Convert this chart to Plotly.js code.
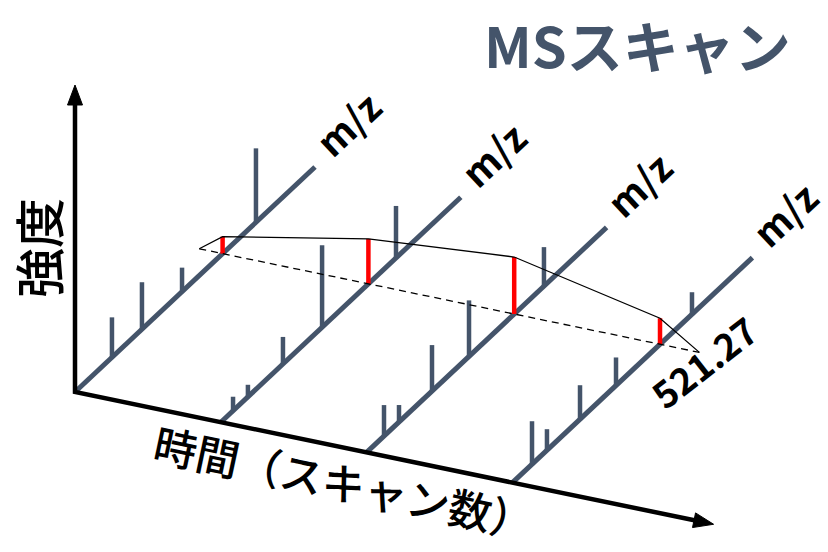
<!DOCTYPE html>
<html>
<head>
<meta charset="utf-8">
<script src="https://cdn.plot.ly/plotly-3.0.1.min.js"></script>
<style>html,body{margin:0;padding:0;background:#fff;}#chart{width:828px;height:552px;}</style>
</head>
<body>
<div id="chart"></div>
<script>
// ---- data ----
const scans = [0, 1, 2, 3];                       // MS scan index (time)
const peakMz0 = [0.154, 0.279, 0.446, 0.754];     // relative m/z position along each axis
const peakInt0 = [40, 47, 24, 74];
const peakMz1 = [0.051, 0.113, 0.259, 0.422, 0.730];
const peakInt1 = [14, 12, 27, 82, 52];
const peakMz2 = [0.0725, 0.135, 0.2725, 0.4267, 0.739];
const peakInt2 = [31, 17, 46, 56, 39];
const peakMz3 = [0.0817, 0.144, 0.2817, 0.4317, 0.7483];
const peakInt3 = [43, 21, 34, 28, 22];
const targetMz = 0.615;                            // m/z 521.27 position
const targetInt = [17, 45, 57, 26];                // intensity of 521.27 in each scan
const targetLabel = "521.27";
const mzLabel = "m/z";
const titleText = "MSスキャン";
const yLabel = "強度";
const xLabel = "時間（スキャン数）";

// ---- oblique projection (layout geometry) ----
const O = [75, 392], T = [145.8, 30.2], M = [240, -225];
function proj(t, s, h) { return [O[0] + t*T[0] + s*M[0], O[1] + t*T[1] + s*M[1] - h]; }

const peakMz = [peakMz0, peakMz1, peakMz2, peakMz3];
const peakInt = [peakInt0, peakInt1, peakInt2, peakInt3];

const slate = '#44546A';
const traces = [];

// m/z axes
let ax = [], ay = [];
scans.forEach(t => { const a = proj(t,0,0), b = proj(t,1,0); ax.push(a[0], b[0], null); ay.push(a[1], b[1], null); });
traces.push({x: ax, y: ay, mode: 'lines', line: {color: slate, width: 5}});

// peaks
let px = [], py = [];
scans.forEach((t, i) => {
  peakMz[i].forEach((s, j) => { const a = proj(t,s,0), b = proj(t,s,peakInt[i][j]); px.push(a[0], b[0], null); py.push(a[1], b[1], null); });
});
traces.push({x: px, y: py, mode: 'lines', line: {color: slate, width: 4.5}});

// target peaks (red)
let rx = [], ry = [];
scans.forEach((t, i) => { const a = proj(t,targetMz,0), b = proj(t,targetMz,targetInt[i]); rx.push(a[0], b[0], null); ry.push(a[1], b[1], null); });
traces.push({x: rx, y: ry, mode: 'lines', line: {color: '#FF0000', width: 4.5}});

// black axes with arrowheads
const vTop = proj(0,0,307), tEnd = proj(4.38,0,0);
(function(){
  const L = Math.hypot(T[0],T[1]); const u = [T[0]/L, T[1]/L]; const n = [-u[1], u[0]];
  const hl = 20, hw = 7.5;
  const tStop = [tEnd[0] - u[0]*hl*0.8, tEnd[1] - u[1]*hl*0.8];
  traces.push({x: [vTop[0], O[0], tStop[0]], y: [vTop[1]+16, O[1], tStop[1]], mode: 'lines', line: {color: '#000', width: 4.5}});
  const b = [tEnd[0]-u[0]*hl, tEnd[1]-u[1]*hl];
  traces.push({x: [tEnd[0], b[0]+n[0]*hw, b[0]-n[0]*hw, tEnd[0]], y: [tEnd[1], b[1]+n[1]*hw, b[1]-n[1]*hw, tEnd[1]], mode: 'lines', fill: 'toself', fillcolor: '#000', line: {color: '#000', width: 1}});
  traces.push({x: [vTop[0], vTop[0]-hw, vTop[0]+hw, vTop[0]], y: [vTop[1], vTop[1]+hl, vTop[1]+hl, vTop[1]], mode: 'lines', fill: 'toself', fillcolor: '#000', line: {color: '#000', width: 1}});
})();

// extracted ion chromatogram of 521.27
const eL = proj(-0.16, targetMz, 0), eR = proj(3.27, targetMz, 0);
let cx = [eL[0]], cy = [eL[1]];
scans.forEach((t, i) => { const p = proj(t, targetMz, targetInt[i]); cx.push(p[0]); cy.push(p[1]); });
cx.push(eR[0]); cy.push(eR[1]);
traces.push({x: cx, y: cy, mode: 'lines', line: {color: '#000', width: 1.3}});
traces.push({x: [eL[0], eR[0]], y: [eL[1], eR[1]], mode: 'lines', line: {color: '#000', width: 1.3, dash: '7px,5px'}});

// annotations
const ann = [];
scans.forEach(t => { const p = proj(t, 1.15, 10); ann.push({x: p[0] - 4, y: p[1], text: '<b>' + mzLabel + '</b>', textangle: -43, font: {size: 38, color: '#000', family: 'Noto Sans CJK JP'}}); });
const lp = proj(3.3, targetMz, -8);
ann.push({x: lp[0], y: lp[1], text: '<b>' + targetLabel + '</b>', textangle: -38, font: {size: 37, color: '#000', family: 'Noto Sans CJK JP'}});
ann.push({x: 637, y: 43, text: '<b>' + titleText + '</b>', font: {size: 56, color: slate, family: 'Noto Sans CJK JP'}});
ann.push({x: 37, y: 248, text: yLabel, textangle: -90, font: {size: 50, color: '#000', family: 'Noto Sans CJK JP', weight: 500}});
ann.push({x: 344, y: 481, text: xLabel, textangle: 12, font: {size: 43, color: '#000', family: 'Noto Sans CJK JP', weight: 500}});
ann.forEach(a => { a.showarrow = false; a.xref = 'x'; a.yref = 'y'; a.xanchor = 'center'; a.yanchor = 'middle'; });

const layout = {
  width: 828, height: 552,
  margin: {l: 0, r: 0, t: 0, b: 0},
  paper_bgcolor: '#fff', plot_bgcolor: '#fff',
  showlegend: false, hovermode: false,
  xaxis: {range: [0, 828], visible: false, fixedrange: true},
  yaxis: {range: [552, 0], visible: false, fixedrange: true},
  annotations: ann
};
Plotly.newPlot('chart', traces, layout, {staticPlot: true, displayModeBar: false});
</script>
</body>
</html>
